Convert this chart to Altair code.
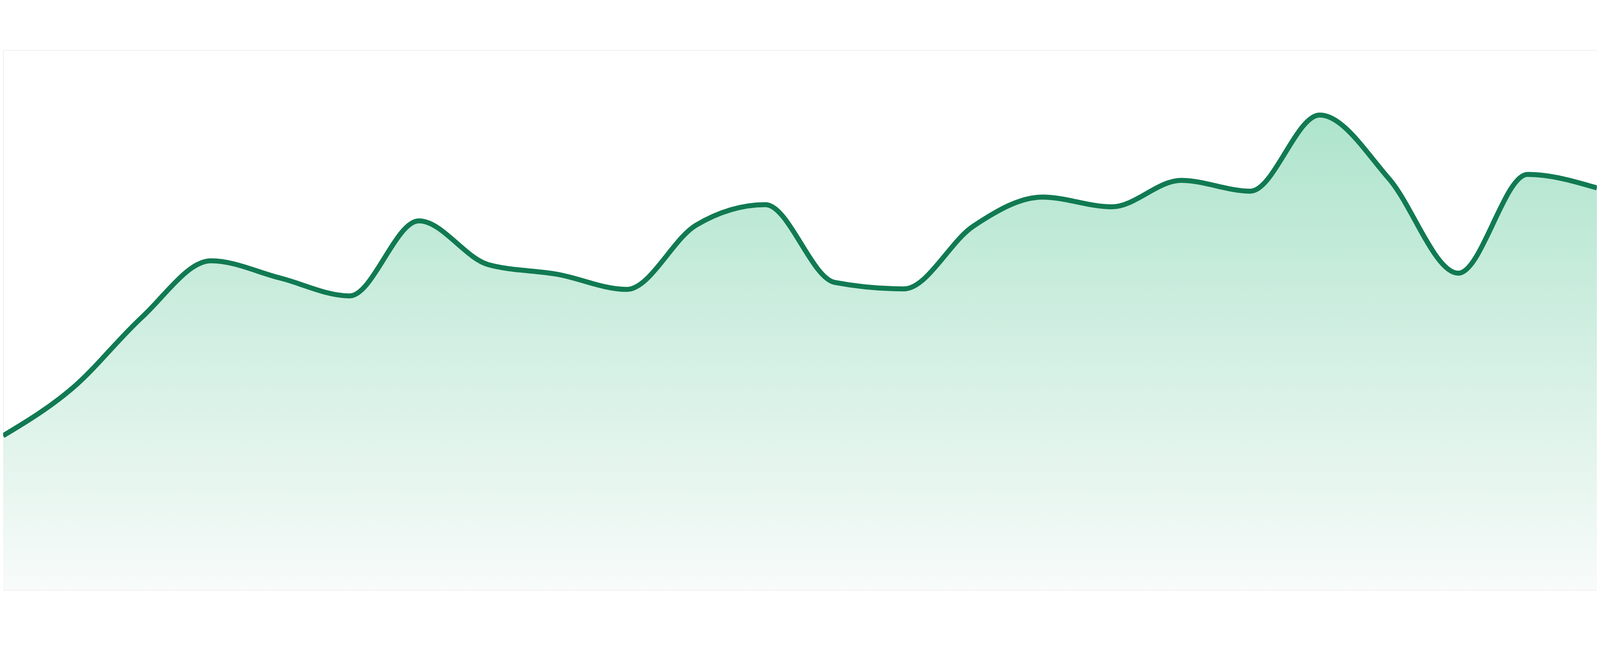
import altair as alt
import pandas as pd

# x positions (index of each sample) and values
idx = list(range(24))
values = [28.6, 37.4, 50.5, 61.0, 57.8, 54.5, 68.4, 60.3, 58.5, 55.7, 67.6, 71.4,
          57.0, 55.8, 67.4, 72.8, 71.0, 75.9, 73.9, 88.0, 76.2, 58.7, 77.0, 74.5]

df = pd.DataFrame({"i": idx, "v": values})

LINE = "#117a52"
grad = alt.Gradient(
    gradient="linear",
    stops=[alt.GradientStop(color="#aee4cc", offset=0),
           alt.GradientStop(color="#f8fbfa", offset=1)],
    x1=1, x2=1, y1=0, y2=1,
)

xenc = alt.X("i:Q", axis=None, scale=alt.Scale(domain=[0, 23], nice=False, zero=False))
yenc = alt.Y("v:Q", axis=None, scale=alt.Scale(domain=[0, 100], nice=False))

area = alt.Chart(df).mark_area(interpolate="monotone", color=grad).encode(x=xenc, y=yenc)
line = alt.Chart(df).mark_line(interpolate="monotone", color=LINE, strokeWidth=15).encode(x=xenc, y=yenc)

chart = alt.layer(area, line).properties(
    width=4792, height=1624, padding=0,
    autosize=alt.AutoSizeParams(type="none"),
).configure_view(strokeWidth=0, stroke="transparent").configure(background="white")

chart.save("out.html", embed_options={"renderer": "svg", "actions": False})
